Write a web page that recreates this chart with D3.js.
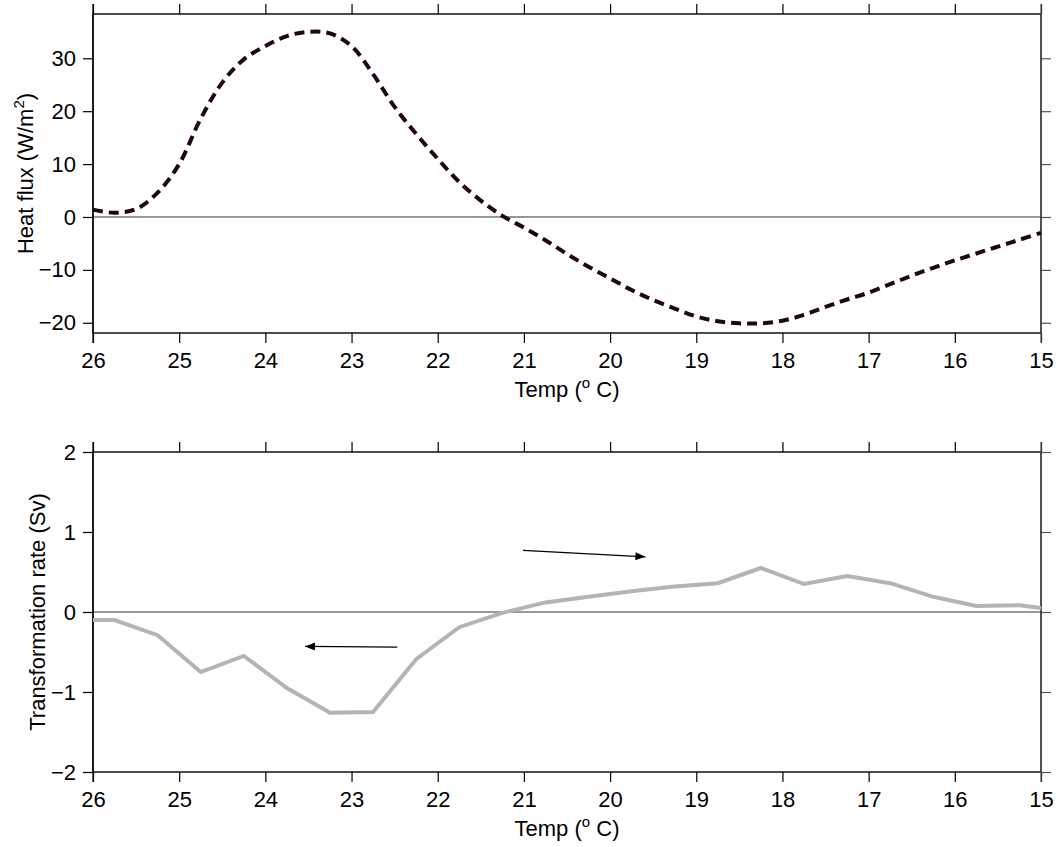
<!DOCTYPE html>
<html>
<head>
<meta charset="utf-8">
<script src="https://cdn.jsdelivr.net/npm/d3@7/dist/d3.min.js"></script>
<style>
  html, body { margin: 0; padding: 0; background: #fff; }
  svg { display: block; }
  text { font-family: "Liberation Sans", Arial, Helvetica, sans-serif; fill: #000; }
</style>
</head>
<body>
<svg id="chart" width="1058" height="847"></svg>
<script>
// ---- data ----
const tempTicks = [26, 25, 24, 23, 22, 21, 20, 19, 18, 17, 16, 15];
const fluxTicks = [-20, -10, 0, 10, 20, 30];
const rateTicks = [-2, -1, 0, 1, 2];

const fluxTemp = [26.00, 25.75, 25.50, 25.25, 25.00, 24.75, 24.50, 24.25, 24.00, 23.75, 23.50, 23.25,
                  23.00, 22.75, 22.50, 22.25, 22.00, 21.75, 21.50, 21.25, 21.00, 20.75, 20.50, 20.25,
                  20.00, 19.75, 19.50, 19.25, 19.00, 18.75, 18.50, 18.25, 18.00, 17.75, 17.50, 17.25,
                  17.00, 16.75, 16.50, 16.25, 16.00, 15.75, 15.50, 15.25, 15.00];
const fluxValues = [1.4, 0.8, 1.5, 4.6, 10.0, 18.6, 25.4, 29.8, 32.3, 34.2, 35.0, 34.7,
                    32.3, 27.0, 20.8, 15.7, 11.0, 6.6, 3.1, 0.2, -2.0, -4.4, -7.0, -9.4,
                    -11.6, -13.8, -15.7, -17.3, -18.8, -19.7, -20.1, -20.1, -19.6, -18.5, -17.0, -15.6,
                    -14.3, -12.7, -11.1, -9.6, -8.2, -6.9, -5.6, -4.3, -3.0];

const rateTemp = [26, 25.75, 25.25, 24.75, 24.25, 23.75, 23.25, 22.75, 22.25, 21.75, 21.25, 20.75,
                  20.25, 19.75, 19.25, 18.75, 18.25, 17.75, 17.25, 16.75, 16.25, 15.75, 15.25, 15];
const rateValues = [-0.10, -0.10, -0.29, -0.75, -0.55, -0.95, -1.26, -1.25, -0.59, -0.19, -0.01, 0.12,
                    0.19, 0.26, 0.32, 0.36, 0.55, 0.35, 0.45, 0.36, 0.19, 0.075, 0.085, 0.05];

// arrows: start / end in data coordinates
const arrowStartTemp = [22.47, 21.01];
const arrowStartRate = [-0.44, 0.77];
const arrowEndTemp = [23.54, 19.59];
const arrowEndRate = [-0.43, 0.69];

// ---- layout ----
const svg = d3.select("#chart");
const left = 93, right = 1041;
const FS = 22;

svg.append("defs").append("marker")
  .attr("id", "ah").attr("viewBox", "0 0 10 8")
  .attr("refX", 10).attr("refY", 4)
  .attr("markerWidth", 11).attr("markerHeight", 8)
  .attr("markerUnits", "userSpaceOnUse")
  .attr("orient", "auto")
  .append("path").attr("d", "M0,0 L10,4 L0,8 Z").attr("fill", "#000");

function panel(top, bottom, yDomain, yTicks, yTitle, superscript) {
  const x = d3.scaleLinear().domain([26, 15]).range([left, right]);
  const y = d3.scaleLinear().domain(yDomain).range([bottom, top]);
  const g = svg.append("g");

  // zero line
  g.append("line").attr("x1", left).attr("x2", right)
    .attr("y1", y(0)).attr("y2", y(0))
    .attr("stroke", "#333").attr("stroke-width", 1);

  const fmt = d => (d < 0 ? "\u2212" + Math.abs(d) : String(d));

  const axB = g.append("g").attr("transform", `translate(0,${bottom})`)
    .call(d3.axisBottom(x).tickValues(tempTicks).tickSize(10).tickSizeOuter(0).tickPadding(9).tickFormat(d => d));
  const axT = g.append("g").attr("transform", `translate(0,${top})`)
    .call(d3.axisTop(x).tickValues(tempTicks).tickSize(10).tickSizeOuter(0).tickFormat(""));
  const axL = g.append("g").attr("transform", `translate(${left},0)`)
    .call(d3.axisLeft(y).tickValues(yTicks).tickSize(10).tickSizeOuter(0).tickPadding(7).tickFormat(fmt));
  const axR = g.append("g").attr("transform", `translate(${right},0)`)
    .call(d3.axisRight(y).tickValues(yTicks).tickSize(10).tickSizeOuter(0).tickFormat(""));

  [axB, axT, axL, axR].forEach(a => {
    a.select(".domain").remove();
    a.attr("font-size", FS).attr("font-family", '"Liberation Sans", Arial, sans-serif');
    a.selectAll("line").attr("stroke", "#000").attr("stroke-width", 1.2);
    a.selectAll("text").attr("font-size", FS).attr("fill", "#000");
  });
  axR.selectAll("line").attr("stroke", "#555");

  // frame
  g.append("rect").attr("x", left).attr("y", top)
    .attr("width", right - left).attr("height", bottom - top)
    .attr("fill", "none").attr("stroke", "#000").attr("stroke-width", 1.4);
  // corner extensions
  g.append("line").attr("x1", left).attr("x2", left).attr("y1", top - 10).attr("y2", bottom + 10)
    .attr("stroke", "#000").attr("stroke-width", 1.2);
  g.append("line").attr("x1", right).attr("x2", right).attr("y1", top - 10).attr("y2", bottom + 10)
    .attr("stroke", "#555").attr("stroke-width", 1.2);

  // x title
  const xt = g.append("text").attr("x", (left + right) / 2).attr("y", bottom + 64)
    .attr("text-anchor", "middle").attr("font-size", FS);
  xt.append("tspan").text("Temp (");
  xt.append("tspan").attr("font-size", 15).attr("dy", -9).text("o");
  xt.append("tspan").attr("dy", 9).text(" C)");

  // y title
  const yt = g.append("text")
    .attr("transform", `translate(${superscript ? 33 : 45},${(top + bottom) / 2}) rotate(-90)`)
    .attr("text-anchor", "middle").attr("font-size", FS);
  if (superscript) {
    yt.append("tspan").text(yTitle);
    yt.append("tspan").attr("font-size", 15).attr("dy", -9).text("2");
    yt.append("tspan").attr("dy", 9).text(")");
  } else {
    yt.text(yTitle);
  }
  return { x, y, g };
}

// top panel
const p1 = panel(14, 333, [-21.93, 38.37], fluxTicks, "Heat flux (W/m", true);
p1.g.append("path")
  .datum(d3.zip(fluxTemp, fluxValues))
  .attr("fill", "none").attr("stroke", "#1f0808").attr("stroke-width", 4)
  .attr("stroke-dasharray", "10,6")
  .attr("d", d3.line().x(d => p1.x(d[0])).y(d => p1.y(d[1])).curve(d3.curveCatmullRom));

// bottom panel
const p2 = panel(452, 772, [-2, 2], rateTicks, "Transformation rate (Sv)", false);
p2.g.append("path")
  .datum(d3.zip(rateTemp, rateValues))
  .attr("fill", "none").attr("stroke", "#b4b4b4").attr("stroke-width", 4)
  .attr("stroke-linejoin", "miter")
  .attr("d", d3.line().x(d => p2.x(d[0])).y(d => p2.y(d[1])));

arrowStartTemp.forEach((t, i) => {
  p2.g.append("line")
    .attr("x1", p2.x(t)).attr("y1", p2.y(arrowStartRate[i]))
    .attr("x2", p2.x(arrowEndTemp[i])).attr("y2", p2.y(arrowEndRate[i]))
    .attr("stroke", "#000").attr("stroke-width", 1.2)
    .attr("marker-end", "url(#ah)");
});
</script>
</body>
</html>
